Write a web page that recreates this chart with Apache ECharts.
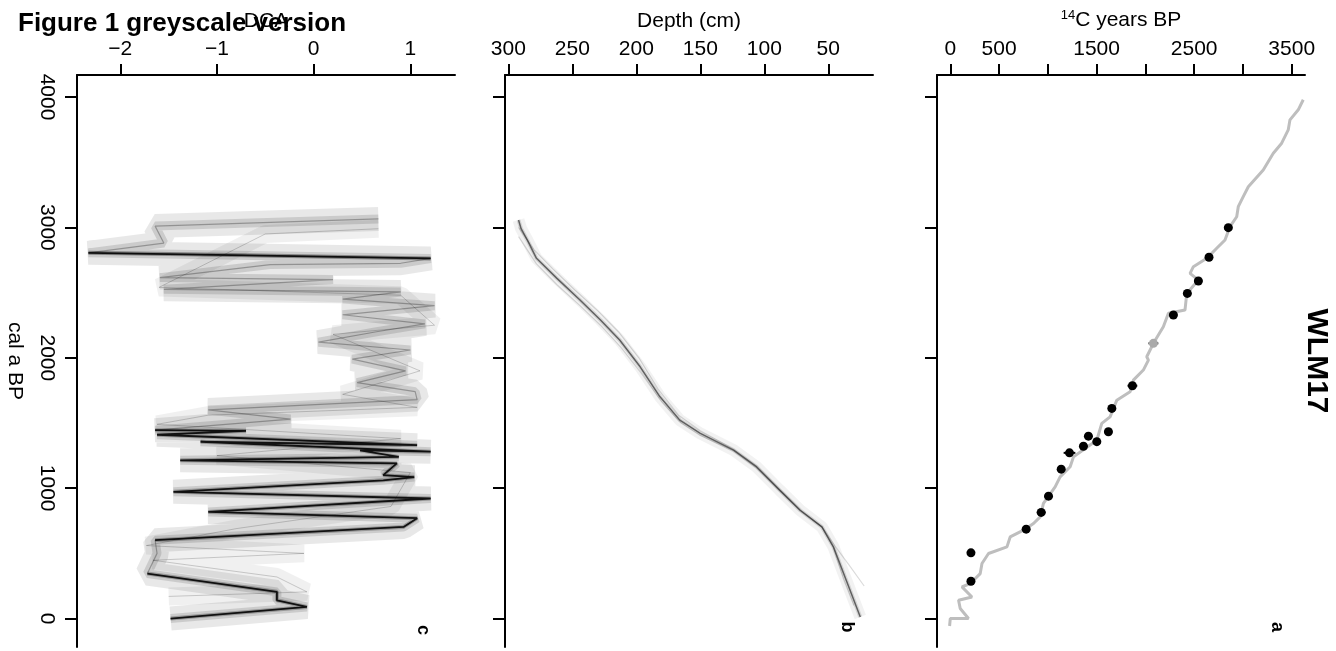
<!DOCTYPE html>
<html><head><meta charset="utf-8">
<script src="https://cdn.jsdelivr.net/npm/echarts@6/dist/echarts.min.js"></script>
<style>html,body{margin:0;padding:0;background:#fff}#c{width:1336px;height:651px}</style>
</head><body><div id="c"></div>
<script>
// ---- tick values / labels ----
const calTicks = [0, 1000, 2000, 3000, 4000];
const dcaTicks = [-2, -1, 0, 1];
const depthTicks = [300, 250, 200, 150, 100, 50];
const c14Ticks = [0, 500, 1000, 1500, 2000, 2500, 3000, 3500];
const c14Labels = [0, 500, 1500, 2500, 3500];

// ---- panel c: DCA axis-1 score vs cal a BP  [dca, cal] ----
const dcaPath = [
  [0.67, 3065], [-1.64, 3010], [-1.55, 2880], [-2.33, 2805], [1.21, 2762], [0.90, 2725],
  [-0.45, 2715], [-1.59, 2615], [0.20, 2600], [-1.55, 2525], [0.90, 2505], [0.30, 2450],
  [1.25, 2400], [0.30, 2330], [1.15, 2260], [0.65, 2200], [0.05, 2120], [1.00, 2060],
  [0.40, 1990], [0.95, 1900], [0.45, 1810], [1.05, 1740], [1.07, 1680], [-1.09, 1600],
  [-0.24, 1530], [-1.64, 1445], [-0.70, 1440], [-1.62, 1410], [1.07, 1330], [-1.17, 1356],
  [1.21, 1280], [0.48, 1290], [0.88, 1240], [-1.38, 1214], [0.86, 1190], [0.72, 1100],
  [1.04, 1085], [0.72, 1060], [-1.45, 972], [1.21, 921], [-1.09, 818], [1.07, 770],
  [0.93, 703], [-1.64, 601], [-1.62, 500], [-1.72, 345], [-0.38, 205], [-0.38, 140],
  [-0.07, 89], [-1.48, 0]
];
// darkest (most frequent) trajectory segments
const dcaDarkTop = [[-2.33, 2805], [-1.0, 2790], [1.21, 2762]];
const dcaDarkLow = [
  [-1.64, 1445], [-0.70, 1440], [-1.62, 1410], [1.07, 1330], [-1.17, 1356],
  [1.21, 1280], [0.48, 1290], [0.88, 1240], [-1.38, 1214], [0.86, 1190], [0.72, 1100],
  [1.04, 1085], [0.72, 1060], [-1.45, 972], [1.21, 921], [-1.09, 818], [1.07, 770],
  [0.93, 703], [-1.64, 601], '-', [-1.72, 345], [-0.38, 205], [-0.38, 140],
  [-0.07, 89], [-1.48, 0]
];
const dcaAlt = [
  [0.67, 2990], [-0.50, 2950], [-1.60, 2540], [0.90, 2480], [1.25, 2250], [0.20, 2180],
  [1.10, 1900], [0.30, 1720], [1.07, 1620], [-1.09, 1560], [-1.62, 1490], [0.90, 1380],
  [-1.00, 1250], [1.00, 1120], [0.80, 860], [-0.80, 690], [-1.73, 560], [-0.10, 500],
  [-1.66, 447], [-0.38, 319], [-0.07, 205], [-1.50, 170]
];

// ---- panel b: depth (cm) vs cal a BP  [depth, cal] ----
const depthMain = [
  [292, 3057], [290, 2990], [285, 2900], [278, 2763], [262, 2609], [244, 2443], [228, 2290],
  [213, 2136], [197, 1931], [181.5, 1701], [166, 1522], [150, 1420], [124, 1292], [106, 1163],
  [88, 985], [72, 831], [55, 703], [46, 550], [36, 294], [25, 12]
];
const depthAltA = [
  [292, 3000], [280, 2830], [265, 2680], [248, 2520], [230, 2360], [214, 2200], [198, 2000],
  [183, 1760], [167, 1560], [150, 1440], [125, 1305], [106, 1170], [88, 990], [72, 835],
  [55, 705], [45, 560], [33, 400], [22, 250]
];
const depthAltB = [
  [292, 2930], [278, 2720], [262, 2560], [244, 2400], [228, 2250], [212, 2080], [196, 1880],
  [180, 1660], [165, 1500], [150, 1405], [124, 1285], [106, 1155], [88, 980], [72, 825],
  [55, 700], [46, 545], [38, 300], [30, 100]
];

// ---- panel a: 14C years BP vs cal a BP ----
const c14Curve = [
  [-7, -57], [0, 0], [187, 0], [102, 77], [85, 140], [222, 166], [120, 243], [205, 269],
  [307, 345], [325, 422], [392, 499], [581, 550], [614, 626], [751, 678], [853, 729],
  [922, 780], [955, 883], [1075, 1010], [1126, 1087], [1229, 1164], [1263, 1240],
  [1382, 1305], [1502, 1368], [1553, 1497], [1638, 1547], [1707, 1675], [1843, 1739],
  [1877, 1829], [1979, 1906], [2031, 1982], [2014, 2008], [2082, 2111], [2184, 2238],
  [2236, 2341], [2406, 2366], [2424, 2494], [2543, 2596], [2458, 2648], [2492, 2699],
  [2629, 2763], [2731, 2840], [2816, 2904], [2867, 3006], [2936, 3082], [2952, 3159],
  [3003, 3236], [3055, 3312], [3208, 3441], [3311, 3569], [3397, 3646], [3464, 3748],
  [3482, 3825], [3567, 3902], [3618, 3979]
];
// [14C age, cal age, 14C error]
const c14Dates = [
  [212, 504, 30], [212, 286, 30], [778, 686, 35], [932, 814, 45], [1007, 939, 40],
  [1137, 1146, 40], [1222, 1271, 60], [1365, 1322, 40], [1416, 1399, 40], [1502, 1357, 40],
  [1621, 1433, 40], [1656, 1612, 40], [1867, 1786, 50], [2287, 2328, 40], [2430, 2494, 40],
  [2543, 2589, 40], [2652, 2771, 40], [2850, 2998, 40]
];
const c14Outlier = [[2082, 2111, 50]];

const F = "'Liberation Sans', Arial, Helvetica, sans-serif";
const fmt = v => (v < 0 ? '\u2212' + Math.abs(v) : String(v));

function xAx(gi, min, max, ticks, labels, name, inverse) {
  return {
    type: 'value', gridIndex: gi, position: 'top', min: min, max: max, inverse: !!inverse,
    name: name, nameLocation: 'middle', nameGap: 43,
    nameTextStyle: { fontSize: 21, color: '#000', fontFamily: F,
      rich: { sup: { fontSize: 13, verticalAlign: 'top', color: '#000', fontFamily: F, padding: [0, 0, 10, 0] },
              n: { fontSize: 21, color: '#000', fontFamily: F } } },
    axisLine: { show: true, onZero: false, lineStyle: { color: '#000', width: 2 } },
    axisTick: { show: true, length: 11, customValues: ticks, lineStyle: { color: '#000', width: 2 } },
    axisLabel: { show: true, customValues: labels, formatter: fmt, fontSize: 21, color: '#000', fontFamily: F, margin: 15 },
    splitLine: { show: false }
  };
}
function yAx(gi, showLabels) {
  return {
    type: 'value', gridIndex: gi, min: -218, max: 4169,
    name: showLabels ? 'cal a BP' : '', nameLocation: 'middle', nameGap: 52, nameRotate: -90,
    nameTextStyle: { fontSize: 21, color: '#000', fontFamily: F },
    axisLine: { show: true, onZero: false, lineStyle: { color: '#000', width: 2 } },
    axisTick: { show: true, length: 12, customValues: calTicks, lineStyle: { color: '#000', width: 2 } },
    axisLabel: { show: showLabels, customValues: calTicks, formatter: fmt, rotate: -90, fontSize: 21, color: '#000', fontFamily: F, margin: 20 },
    splitLine: { show: false }
  };
}
function line(data, xi, width, color, z) {
  return { type: 'line', xAxisIndex: xi, yAxisIndex: xi, data: data, showSymbol: false, symbol: 'none',
    silent: true, z: z || 2, clip: true, connectNulls: false,
    lineStyle: { width: width, color: color, cap: 'butt', join: 'bevel' } };
}

const chart = echarts.init(document.getElementById('c'), null, { renderer: 'canvas' });
chart.setOption({
  animation: false,
  backgroundColor: '#fff',
  textStyle: { fontFamily: F },
  title: { text: 'Figure 1 greyscale version', left: 13, top: 6,
    textStyle: { fontSize: 26, fontWeight: 'bold', color: '#000', fontFamily: F } },
  grid: [
    { left: 77, width: 378, top: 75, height: 572 },
    { left: 505, width: 368, top: 75, height: 572 },
    { left: 937, width: 368, top: 75, height: 572 }
  ],
  xAxis: [
    xAx(0, -2.448, 1.462, dcaTicks, dcaTicks, 'DCA', false),
    xAx(1, 15.08, 302.58, depthTicks, depthTicks, 'Depth (cm)', true),
    xAx(2, -136, 3636, c14Ticks, c14Labels, '{sup|14}{n|C years BP}', false)
  ],
  yAxis: [yAx(0, true), yAx(1, false), yAx(2, false)],
  series: [
    // panel c
    line(dcaAlt, 0, 18, 'rgba(0,0,0,0.06)', 2),
    line(dcaAlt, 0, 1, 'rgba(0,0,0,0.18)', 3),
    line(dcaPath, 0, 24, 'rgba(0,0,0,0.09)', 3),
    line(dcaPath, 0, 9, 'rgba(0,0,0,0.12)', 4),
    line(dcaPath, 0, 1.2, 'rgba(0,0,0,0.28)', 5),
    line(dcaDarkTop, 0, 4, 'rgba(0,0,0,0.35)', 6),
    line(dcaDarkTop, 0, 1.8, 'rgba(0,0,0,0.85)', 7),
    line(dcaDarkLow, 0, 4, 'rgba(0,0,0,0.25)', 6),
    line(dcaDarkLow, 0, 1.8, 'rgba(0,0,0,0.85)', 7),
    // panel b
    line(depthMain, 1, 12, 'rgba(0,0,0,0.05)', 2),
    line(depthAltA, 1, 1.2, 'rgba(0,0,0,0.14)', 3),
    line(depthAltB, 1, 1.2, 'rgba(0,0,0,0.14)', 3),
    line(depthMain, 1, 4, 'rgba(0,0,0,0.12)', 3),
    line(depthMain, 1, 1.5, 'rgba(0,0,0,0.55)', 4),
    // panel a
    line(c14Curve, 2, 3, '#bebebe', 2),
    {
      type: 'custom', xAxisIndex: 2, yAxisIndex: 2, z: 4, silent: true,
      data: c14Dates.concat(c14Outlier),
      renderItem: function (params, api) {
        const a = api.coord([api.value(0) - api.value(2), api.value(1)]);
        const b = api.coord([api.value(0) + api.value(2), api.value(1)]);
        return { type: 'line', shape: { x1: a[0], y1: a[1], x2: b[0], y2: b[1] },
          style: { stroke: '#000', lineWidth: 2 } };
      }
    },
    { type: 'scatter', xAxisIndex: 2, yAxisIndex: 2, z: 5, silent: true, symbolSize: 9,
      data: c14Dates.map(d => [d[0], d[1]]), itemStyle: { color: '#000', opacity: 1 } },
    { type: 'scatter', xAxisIndex: 2, yAxisIndex: 2, z: 5, silent: true, symbolSize: 9,
      data: c14Outlier.map(d => [d[0], d[1]]), itemStyle: { color: '#aaaaaa', opacity: 1 } }
  ],
  graphic: [
    { type: 'text', x: 423, y: 630, rotation: -Math.PI / 2,
      style: { text: 'c', fontSize: 18, fontWeight: 'bold', fontFamily: F, fill: '#000', align: 'center', verticalAlign: 'middle' } },
    { type: 'text', x: 847, y: 627, rotation: -Math.PI / 2,
      style: { text: 'b', fontSize: 18, fontWeight: 'bold', fontFamily: F, fill: '#000', align: 'center', verticalAlign: 'middle' } },
    { type: 'text', x: 1277, y: 627, rotation: -Math.PI / 2,
      style: { text: 'a', fontSize: 18, fontWeight: 'bold', fontFamily: F, fill: '#000', align: 'center', verticalAlign: 'middle' } },
    { type: 'text', x: 1316, y: 361, rotation: -Math.PI / 2,
      style: { text: 'WLM17', fontSize: 30, fontWeight: 'bold', fontFamily: F, fill: '#000', align: 'center', verticalAlign: 'middle' } }
  ]
});
</script>
</body></html>
